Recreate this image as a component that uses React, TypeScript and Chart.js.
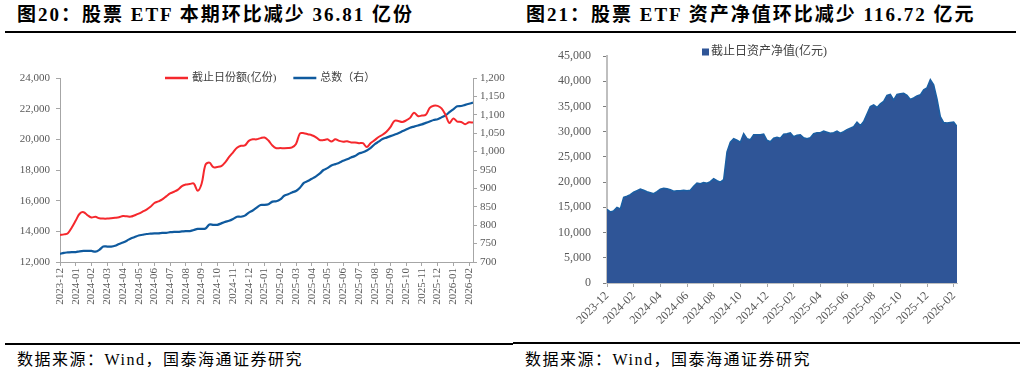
import React, { useEffect, useRef } from 'react';
import { Chart, registerables } from 'chart.js';

Chart.register(...registerables);

// ---------- DATA ----------
const monthLabels = [
  '2023-12', '2024-01', '2024-02', '2024-03', '2024-04', '2024-05', '2024-06', '2024-07', '2024-08',
  '2024-09', '2024-10', '2024-11', '2024-12', '2025-01', '2025-02', '2025-03', '2025-04', '2025-05',
  '2025-06', '2025-07', '2025-08', '2025-09', '2025-10', '2025-11', '2025-12', '2026-01', '2026-02',
];
// samples are taken every quarter month starting at 2023-12
const SAMPLE_STEP_MONTHS = 0.25;

// 截止日份额(亿份)
const shares = [
  13760, 13800, 13880, 14250, 14700, 15150, 15250, 15050, 14900, 14950,
  14850, 14830, 14830, 14850, 14880, 14920, 15000, 14980, 14960, 15050,
  15150, 15280, 15420, 15600, 15850, 15950, 16080, 16280, 16470, 16580,
  16720, 16950, 17050, 17080, 17120, 16650, 17100, 18350, 18480, 18180,
  18200, 18250, 18500, 18850, 19150, 19450, 19580, 19600, 19900, 20000,
  20000, 20080, 20120, 19920, 19600, 19420, 19430, 19420, 19430, 19480,
  19700, 20380, 20400, 20330, 20270, 20150, 19960, 19950, 20000, 19860,
  20000, 19900, 19850, 19870, 19800, 19790, 19750, 19750, 19500, 19760,
  19950, 20150, 20300, 20500, 20800, 21200, 21200, 21130, 21230, 21400,
  21740, 21520, 21550, 21600, 22050, 22190, 22180, 22020, 21600, 21060,
  21360, 21160, 21130, 20990, 21110, 21090,
];
// 总数（右）
const fundCount = [
  722, 725, 726, 727, 727, 729, 730, 730, 730, 728,
  733, 742, 742, 742, 744, 749, 753, 758, 764, 768,
  772, 774, 776, 777, 778, 778, 779, 779, 781, 782,
  782, 783, 784, 784, 787, 790, 790, 791, 802, 801,
  801, 805, 809, 812, 817, 823, 823, 826, 834, 840,
  848, 855, 855, 857, 864, 865, 870, 880, 884, 889,
  893, 902, 915, 920, 926, 932, 940, 950, 955, 962,
  966, 970, 975, 979, 984, 988, 995, 998, 1003, 1010,
  1020, 1027, 1034, 1038, 1042, 1046, 1050, 1055, 1060, 1065,
  1068, 1071, 1074, 1078, 1082, 1086, 1088, 1093, 1098, 1107,
  1115, 1123, 1124, 1127, 1130, 1133,
];
// 截止日资产净值(亿元)
const navValues = [
  14600, 14100, 14300, 15000, 14700, 17000, 17200, 17500, 18000, 18300,
  18600, 18400, 18100, 17900, 17700, 18100, 18600, 18800, 18700, 18500,
  18200, 18300, 18300, 18400, 18300, 18400, 19200, 19800, 19700, 19900,
  19800, 20100, 20700, 20300, 20000, 20500, 26000, 27900, 28600, 28300,
  27900, 29600, 28600, 28400, 29400, 29400, 29400, 29500, 28300, 28000,
  28700, 28900, 28700, 29500, 29600, 29750, 29000, 29300, 29400, 28800,
  28600, 28800, 29600, 29800, 29800, 30100, 29900, 29700, 29800, 30100,
  29700, 30000, 30400, 30700, 31000, 31900, 31200, 32000, 33500, 35000,
  35300, 34800, 35500, 36000, 37200, 37400, 36300, 37400, 37500, 37600,
  37200, 36400, 36700, 37100, 37300, 38300, 38700, 40300, 39300, 36500,
  33000, 31800, 31700, 31800, 31900, 31000,
];

const sharesAxis = { min: 12000, max: 24000, step: 2000 };
const countAxis = { min: 700, max: 1200, step: 50 };
const navAxis = { min: 0, max: 45000, step: 5000 };

const leftTitle = '图20：股票 ETF 本期环比减少 36.81 亿份';
const rightTitle = '图21：股票 ETF 资产净值环比减少 116.72 亿元';
const sourceText = '数据来源：Wind，国泰海通证券研究';

// ---------- STYLE ----------
const FONT = "'Liberation Serif', 'Times New Roman', 'Noto Sans CJK SC', serif";
const TICK_COLOR = '#595959';
const AXIS_COLOR = '#A6A6A6';
const RED = '#F5282D';
const BLUE = '#0F5A9E';
const NAV_FILL = '#2F5597';
const NAV_LINE = '#1A5FA3';

const fmt = (v: number) => Number(v).toLocaleString('en-US');
const toPoints = (arr: number[]) => arr.map((v, i) => ({ x: i * SAMPLE_STEP_MONTHS, y: v }));

const customLegend = {
  id: 'customLegend',
  afterDraw(chart: any, _args: any, opts: any) {
    const { ctx } = chart;
    ctx.save();
    ctx.font = opts.font;
    ctx.textBaseline = 'middle';
    ctx.textAlign = 'left';
    let x = opts.x;
    const y = opts.y;
    chart.data.datasets.forEach((ds: any) => {
      if (opts.kind === 'line') {
        ctx.strokeStyle = ds.borderColor;
        ctx.lineWidth = 2.5;
        ctx.beginPath();
        ctx.moveTo(x, y);
        ctx.lineTo(x + opts.boxW, y);
        ctx.stroke();
      } else {
        ctx.fillStyle = ds.backgroundColor;
        ctx.fillRect(x, y - opts.boxH / 2, opts.boxW, opts.boxH);
      }
      x += opts.boxW + opts.gap;
      ctx.fillStyle = opts.color;
      ctx.fillText(ds.label, x, y);
      x += ctx.measureText(ds.label).width + opts.itemGap;
    });
    ctx.restore();
  },
};

function LeftChart() {
  const ref = useRef<HTMLCanvasElement>(null);
  useEffect(() => {
    if (!ref.current) return;
    const lastX = (shares.length - 1) * SAMPLE_STEP_MONTHS;
    const chart = new Chart(ref.current, {
      type: 'line',
      data: {
        datasets: [
          {
            label: '截止日份额(亿份)',
            data: toPoints(shares),
            borderColor: RED,
            backgroundColor: RED,
            borderWidth: 2,
            pointRadius: 0,
            tension: 0.35,
            yAxisID: 'y',
          },
          {
            label: '总数（右）',
            data: toPoints(fundCount),
            borderColor: BLUE,
            backgroundColor: BLUE,
            borderWidth: 2.2,
            pointRadius: 0,
            tension: 0.3,
            yAxisID: 'y1',
          },
        ],
      },
      options: {
        animation: false,
        responsive: false,
        devicePixelRatio: 1,
        layout: { padding: { top: 42, left: 0, right: 0, bottom: 0 } },
        plugins: {
          legend: { display: false },
          tooltip: { enabled: false },
          customLegend: {
            kind: 'line', x: 165, y: 42, boxW: 23, boxH: 2, gap: 4, itemGap: 17,
            font: `11px ${FONT}`, color: '#404040',
          },
        } as any,
        scales: {
          x: {
            type: 'linear',
            min: 0,
            max: lastX,
            afterBuildTicks: (s: any) => { s.ticks = monthLabels.map((_, i) => ({ value: i })); },
            afterFit: (s: any) => { s.height = 78; },
            ticks: {
              autoSkip: false,
              minRotation: 90,
              maxRotation: 90,
              padding: 2,
              color: TICK_COLOR,
              font: { family: FONT, size: 11 },
              callback: (v: any) => monthLabels[Math.round(Number(v))],
            },
            grid: { drawOnChartArea: false, drawTicks: true, tickLength: 4, color: AXIS_COLOR },
            border: { display: true, color: AXIS_COLOR, width: 1 },
          },
          y: {
            position: 'left',
            min: sharesAxis.min,
            max: sharesAxis.max,
            afterFit: (s: any) => { s.width = 60; },
            ticks: {
              stepSize: sharesAxis.step,
              padding: 6,
              color: TICK_COLOR,
              font: { family: FONT, size: 11 },
              callback: (v: any) => fmt(v),
            },
            grid: { drawOnChartArea: false, drawTicks: true, tickLength: 4, color: AXIS_COLOR },
            border: { display: true, color: AXIS_COLOR, width: 1 },
          },
          y1: {
            position: 'right',
            min: countAxis.min,
            max: countAxis.max,
            afterFit: (s: any) => { s.width = 40; },
            ticks: {
              stepSize: countAxis.step,
              padding: 3,
              color: TICK_COLOR,
              font: { family: FONT, size: 11 },
              callback: (v: any) => fmt(v),
            },
            grid: { drawOnChartArea: false, drawTicks: true, tickLength: 4, color: AXIS_COLOR },
            border: { display: true, color: AXIS_COLOR, width: 1 },
          },
        },
      } as any,
      plugins: [customLegend],
    });
    return () => chart.destroy();
  }, []);
  return <canvas ref={ref} width={513} height={304} style={{ position: 'absolute', left: 0, top: 36, width: 513, height: 304 }} />;
}

function RightChart() {
  const ref = useRef<HTMLCanvasElement>(null);
  useEffect(() => {
    if (!ref.current) return;
    const lastX = (navValues.length - 1) * SAMPLE_STEP_MONTHS;
    const chart = new Chart(ref.current, {
      type: 'line',
      data: {
        datasets: [
          {
            label: '截止日资产净值(亿元)',
            data: toPoints(navValues),
            borderColor: NAV_LINE,
            backgroundColor: NAV_FILL,
            borderWidth: 1.5,
            pointRadius: 0,
            tension: 0,
            fill: 'origin',
          },
        ],
      },
      options: {
        animation: false,
        responsive: false,
        devicePixelRatio: 1,
        layout: { padding: { top: 20, left: 0, right: 69, bottom: 0 } },
        plugins: {
          legend: { display: false },
          tooltip: { enabled: false },
          customLegend: {
            kind: 'box', x: 189, y: 16, boxW: 7, boxH: 7, gap: 2, itemGap: 10,
            font: `12px ${FONT}`, color: '#404040',
          },
        } as any,
        scales: {
          x: {
            type: 'linear',
            min: 0,
            max: lastX,
            afterBuildTicks: (s: any) => {
              s.ticks = monthLabels.map((_, i) => ({ value: i })).filter((t) => t.value % 2 === 0);
            },
            afterFit: (s: any) => { s.height = 57; },
            ticks: {
              autoSkip: false,
              minRotation: 45,
              maxRotation: 45,
              padding: 2,
              color: TICK_COLOR,
              font: { family: FONT, size: 12 },
              callback: (v: any) => monthLabels[Math.round(Number(v))],
            },
            grid: { drawOnChartArea: false, drawTicks: true, tickLength: 4, color: AXIS_COLOR },
            border: { display: true, color: '#BFBFBF', width: 1 },
          },
          y: {
            position: 'left',
            min: navAxis.min,
            max: navAxis.max,
            afterFit: (s: any) => { s.width = 94; },
            ticks: {
              stepSize: navAxis.step,
              padding: 12,
              color: TICK_COLOR,
              font: { family: FONT, size: 12 },
              callback: (v: any) => fmt(v),
            },
            grid: { drawOnChartArea: false, drawTicks: true, tickLength: 4, color: '#7F7F7F' },
            border: { display: true, color: '#BFBFBF', width: 2 },
          },
        },
      } as any,
      plugins: [customLegend],
    });
    return () => chart.destroy();
  }, []);
  return <canvas ref={ref} width={513} height={304} style={{ position: 'absolute', left: 513, top: 36, width: 513, height: 304 }} />;
}

const titleStyle: React.CSSProperties = {
  position: 'absolute',
  top: 3,
  fontFamily: FONT,
  fontWeight: 'bold',
  fontSize: 19,
  lineHeight: '24px',
  letterSpacing: 2,
  color: '#000',
  whiteSpace: 'nowrap',
};
const sourceStyle: React.CSSProperties = {
  position: 'absolute',
  top: 350,
  fontFamily: FONT,
  fontSize: 16,
  lineHeight: '20px',
  letterSpacing: 1.5,
  color: '#000',
  whiteSpace: 'nowrap',
};
const rule = (left: number, top: number, width: number): React.CSSProperties => ({
  position: 'absolute', left, top, width, height: 2, background: '#000',
});

export default function App() {
  return (
    <div style={{ position: 'absolute', left: 0, top: 0, width: 1026, height: 375, background: '#fff', overflow: 'hidden' }}>
      <div style={{ ...titleStyle, left: 17 }}>{leftTitle}</div>
      <div style={{ ...titleStyle, left: 526 }}>{rightTitle}</div>
      <div style={rule(5, 31, 508)} />
      <div style={rule(513, 31, 503)} />
      <LeftChart />
      <RightChart />
      <div style={rule(5, 343, 508)} />
      <div style={rule(513, 342, 507)} />
      <div style={{ ...sourceStyle, left: 17 }}>{sourceText}</div>
      <div style={{ ...sourceStyle, left: 525 }}>{sourceText}</div>
    </div>
  );
}
